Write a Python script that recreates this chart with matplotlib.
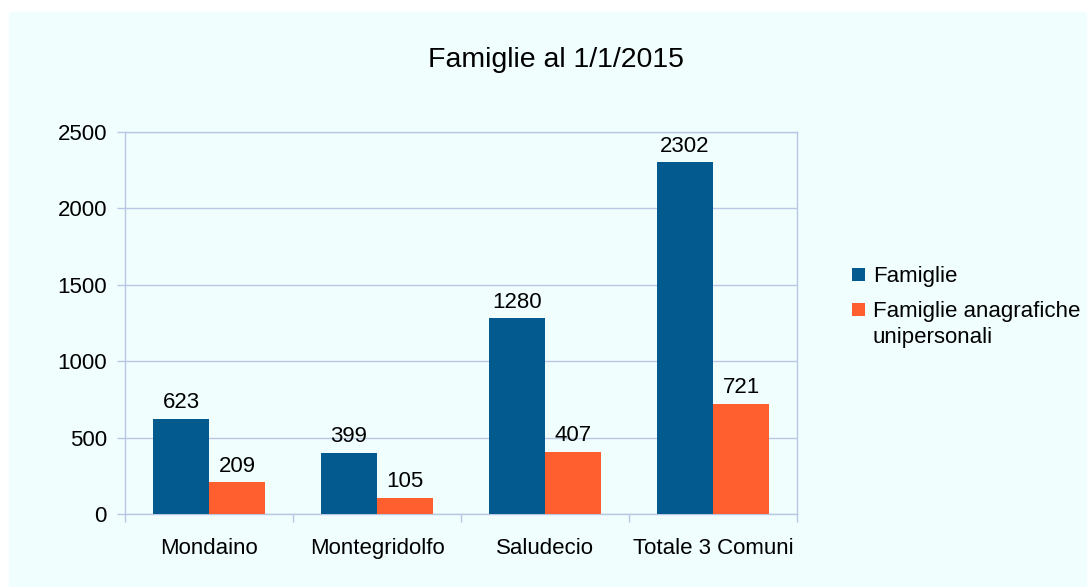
import matplotlib
matplotlib.use('Agg')
import matplotlib.pyplot as plt
import numpy as np
from matplotlib.patches import Rectangle

plt.rcParams['font.family'] = ['Liberation Sans', 'DejaVu Sans']

# Data
comuni = ['Mondaino', 'Montegridolfo', 'Saludecio', 'Totale 3 Comuni']
famiglie = [623, 399, 1280, 2302]
unipersonali = [209, 105, 407, 721]
series_names = ['Famiglie', ['Famiglie anagrafiche', 'unipersonali']]
yticks = [0, 500, 1000, 1500, 2000, 2500]

blue = '#035a8f'
orange = '#ff5f2e'
grid_col = '#b8c8e4'
bg = '#f0fefe'
fs = 16
W, H = 1087, 587

fig = plt.figure(figsize=(10.87, 5.87), dpi=100)
fig.patch.set_facecolor('white')
# light background panel, inset a little from the top/left edge
fig.patches.append(Rectangle((9 / W, 0), 1, 1 - 12 / H, transform=fig.transFigure,
                             facecolor=bg, edgecolor='none', zorder=-10))

ax = fig.add_axes([125 / W, 1 - 514 / H, 672 / W, 382 / H])
ax.set_facecolor(bg)

x = np.arange(len(comuni))
w = 1 / 3
b1 = ax.bar(x - w / 2, famiglie, w, color=blue, zorder=3)
b2 = ax.bar(x + w / 2, unipersonali, w, color=orange, zorder=3)

for bars in (b1, b2):
    for r in bars:
        ax.annotate(f'{int(r.get_height())}', (r.get_x() + r.get_width() / 2, r.get_height()),
                    xytext=(0, 4), textcoords='offset points', ha='center', va='bottom',
                    fontsize=fs, color='black')

ax.set_xlim(-0.5, len(comuni) - 0.5)
ax.set_ylim(0, 2500)
ax.set_yticks(yticks)
ax.yaxis.grid(True, color=grid_col, linewidth=1, zorder=0)
ax.set_axisbelow(True)

ax.set_xticks(x)
ax.set_xticklabels(comuni)
ax.set_xticks(np.arange(len(comuni) + 1) - 0.5, minor=True)
ax.tick_params(axis='x', which='major', length=0, pad=17, labelsize=fs)
ax.tick_params(axis='x', which='minor', length=6, color=grid_col, width=1)
ax.tick_params(axis='y', length=6, color=grid_col, width=1, pad=7, labelsize=fs)

for s in ax.spines.values():
    s.set_color(grid_col)
    s.set_linewidth(1)

fig.text(556 / W, 1 - 60 / H, 'Famiglie al 1/1/2015', ha='center', va='center', fontsize=20.5)

# legend drawn by hand so the square lines up with the first text line
def legend_entry(y_top, color, lines):
    fig.patches.append(Rectangle((852 / W, 1 - (y_top + 13) / H), 13 / W, 13 / H,
                                 transform=fig.transFigure, facecolor=color, edgecolor='none'))
    for i, line in enumerate(lines):
        fig.text(873 / W, 1 - (y_top + 14 + 26 * i) / H, line, ha='left', va='baseline',
                 fontsize=fs)

legend_entry(268, blue, [series_names[0]])
legend_entry(303, orange, series_names[1])

fig.savefig('out.png', dpi=100, facecolor=fig.get_facecolor())
